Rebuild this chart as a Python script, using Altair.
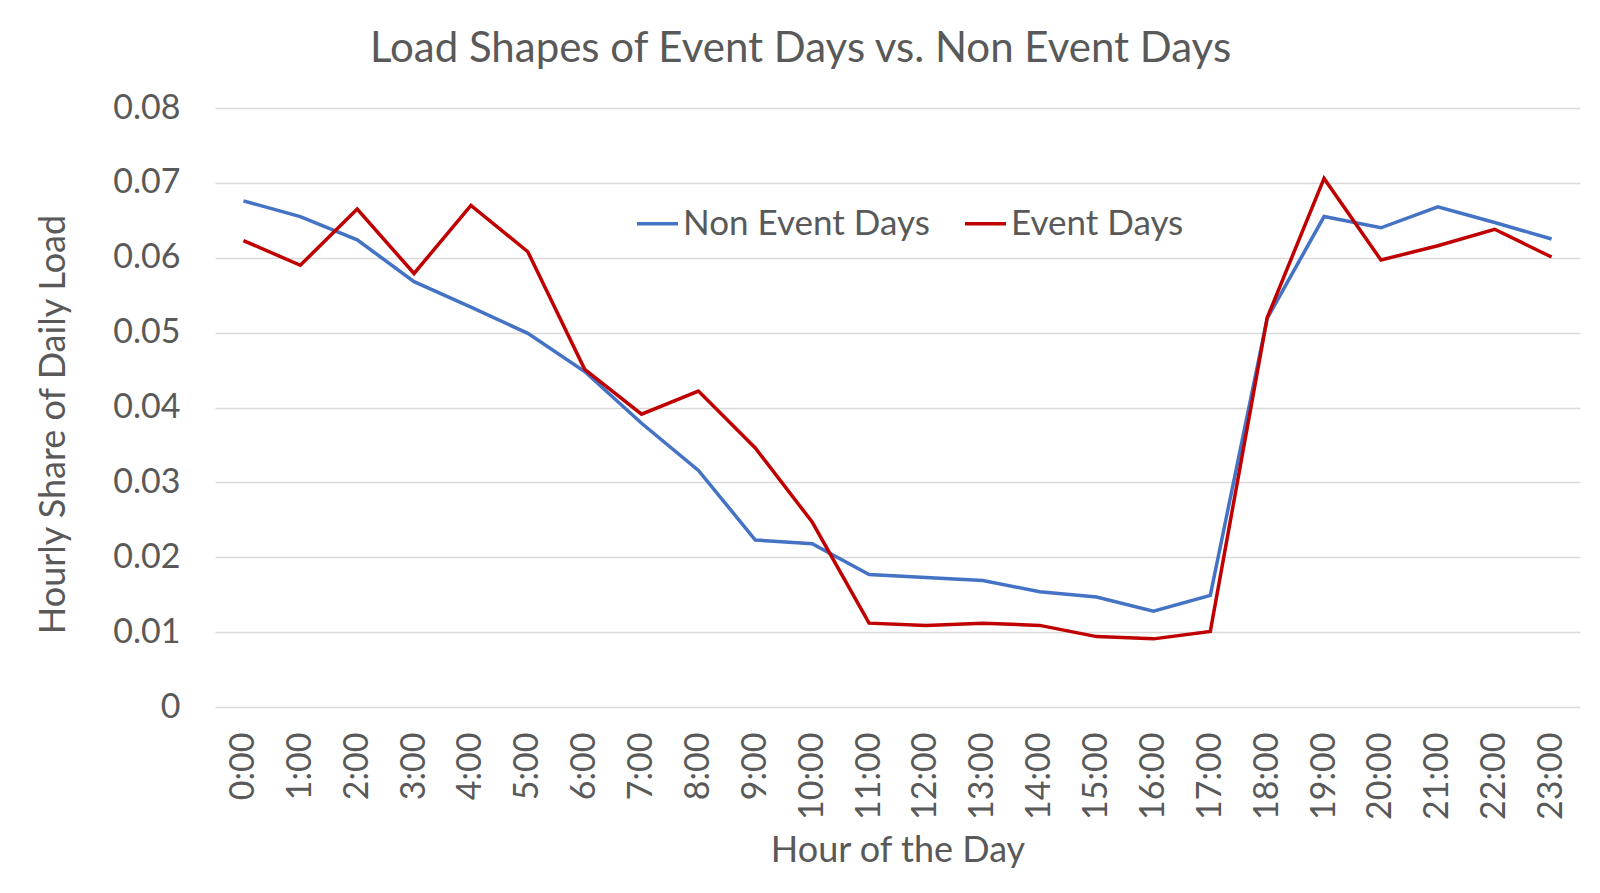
import altair as alt
import pandas as pd

hours = ["0:00", "1:00", "2:00", "3:00", "4:00", "5:00", "6:00", "7:00",
         "8:00", "9:00", "10:00", "11:00", "12:00", "13:00", "14:00", "15:00",
         "16:00", "17:00", "18:00", "19:00", "20:00", "21:00", "22:00", "23:00"]

non_event = [0.0676, 0.0655, 0.0624, 0.0568, 0.0534, 0.0499, 0.0448, 0.0379,
             0.0316, 0.0223, 0.0218, 0.0177, 0.0173, 0.0169, 0.0154, 0.0147,
             0.0128, 0.0149, 0.0519, 0.0655, 0.0640, 0.0668, 0.0647, 0.0625]

event = [0.0623, 0.0590, 0.0665, 0.0579, 0.0670, 0.0608, 0.0451, 0.0391,
         0.0422, 0.0346, 0.0247, 0.0112, 0.0109, 0.0112, 0.0109, 0.0094,
         0.0091, 0.0101, 0.0520, 0.0706, 0.0597, 0.0616, 0.0638, 0.0601]

series_names = ["Non Event Days", "Event Days"]
series_colors = ["#4472C4", "#C00000"]
y_ticks = [0, 0.01, 0.02, 0.03, 0.04, 0.05, 0.06, 0.07, 0.08]

df = pd.DataFrame({
    "hour": hours + hours,
    "share": non_event + event,
    "series": [series_names[0]] * len(hours) + [series_names[1]] * len(hours),
})

FONT = "Lato"
GRAY = "#595959"

color = alt.Color(
    "series:N",
    scale=alt.Scale(domain=series_names, range=series_colors),
    legend=alt.Legend(
        title=None, orient="none", direction="horizontal",
        legendX=420, legendY=93, padding=0,
        symbolType="stroke", symbolSize=1681, symbolStrokeWidth=3.5,
        labelFont=FONT, labelFontSize=35, labelColor=GRAY, labelOffset=3,
        labelLimit=0, columnPadding=28,
    ),
)

x = alt.X(
    "hour:N", sort=hours,
    scale=alt.Scale(type="point", padding=0.5),
    axis=alt.Axis(
        title="Hour of the Day", labelAngle=270, labelAlign="right",
        labelBaseline="middle", labelPadding=25, labelFont=FONT,
        labelFontSize=34, labelColor=GRAY, titleFont=FONT, titleFontSize=36,
        titleColor=GRAY, titleFontWeight="normal", titlePadding=14,
        ticks=False, domain=False, grid=False,
    ),
)

y = alt.Y(
    "share:Q",
    scale=alt.Scale(domain=[0, 0.08], nice=False),
    axis=alt.Axis(
        title="Hourly Share of Daily Load", values=y_ticks, format=".2~f",
        labelPadding=35, labelFont=FONT, labelFontSize=34, labelColor=GRAY,
        titleFont=FONT, titleFontSize=36, titleColor=GRAY,
        titleFontWeight="normal", titleX=-162, titleY=316,
        titleAlign="center", titleBaseline="middle",
        ticks=False, domain=False, grid=True, gridColor="#D9D9D9",
        gridWidth=1.5,
    ),
)

base = alt.Chart(df).mark_line(strokeWidth=3.5).encode(x=x, y=y, color=color)

blue = base.transform_filter(alt.datum.series == series_names[0])
red = base.transform_filter(alt.datum.series == series_names[1])

chart = alt.layer(blue, red).properties(
    width=1365, height=599,
    title=alt.TitleParams(
        text="Load Shapes of Event Days vs. Non Event Days",
        font=FONT, fontSize=42, color=GRAY, fontWeight="normal",
        anchor="middle", frame="group", dx=-97, offset=20,
    ),
    autosize=alt.AutoSizeParams(type="none"),
    padding={"left": 207, "top": 100, "right": 12, "bottom": 175},
).configure(background="white").configure_view(strokeWidth=0, stroke="transparent")

chart.save("out.html", embed_options={"renderer": "svg", "actions": False})
